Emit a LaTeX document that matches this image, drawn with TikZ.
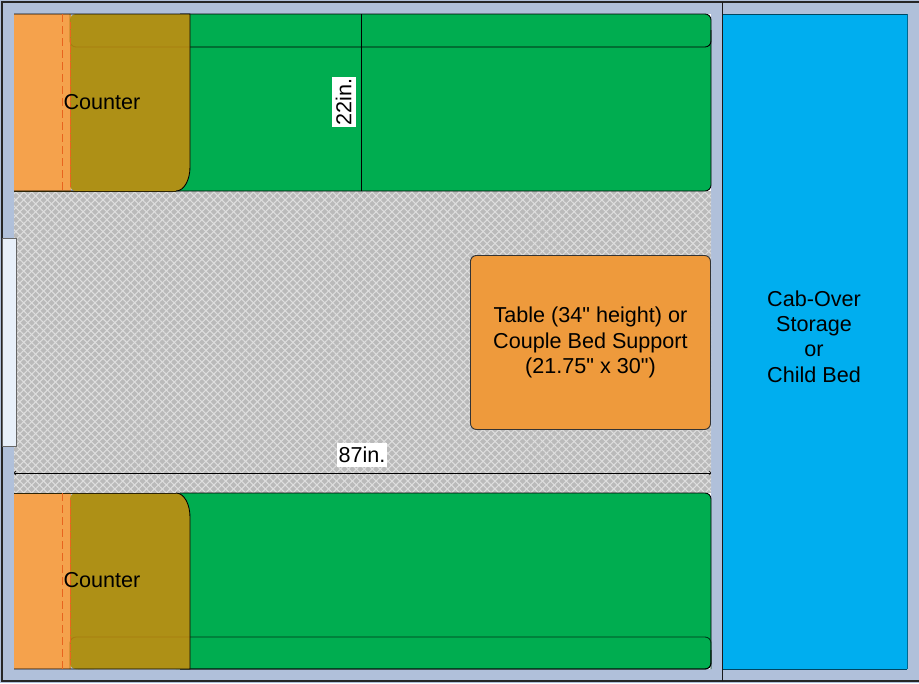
\documentclass[tikz,border=0pt]{standalone}
\usepackage{fontspec}
\newfontfamily\lsans{Liberation Sans}
\usetikzlibrary{patterns.meta,arrows.meta}
\definecolor{wallc}{HTML}{B0C0DA}
\definecolor{floorc}{HTML}{BABABA}
\definecolor{floorl}{HTML}{DEDEDE}
\definecolor{benchc}{HTML}{00AD50}
\definecolor{orangec}{HTML}{F5A24C}
\definecolor{olivec}{HTML}{AE9016}
\definecolor{tablec}{HTML}{EE9A3C}
\definecolor{cabc}{HTML}{00AEEF}
\definecolor{doorc}{HTML}{E8F0FA}
\definecolor{dashc}{HTML}{E8641E}
\definecolor{olineC}{HTML}{A87A10}
\tikzset{
  outl/.style={draw=black,line width=0.65pt},
  thin line/.style={draw=black,line width=0.55pt},
  lab/.style={font=\lsans\fontsize{16.2}{18}\selectfont,text=black,align=center,inner sep=0pt},
  dimlab/.style={lab,fill=white,inner xsep=1pt,inner ysep=0pt,minimum height=18pt},
  dashl/.style={draw=dashc,line width=0.6pt,dash pattern=on 6pt off 3pt},
}
\begin{document}
\begin{tikzpicture}[x=0.75pt,y=-0.75pt]
\useasboundingbox (0,0) rectangle (919,683);
% walls
\fill[wallc] (0,0) rectangle (919,683);
\draw[line width=1.2pt,black!85] (919,2) -- (2,2) -- (2,681) -- (919,681);
% floor
\fill[floorc] (14,191) rectangle (711,493);
\fill[pattern={Lines[angle=45,distance=4.2pt,line width=0.8pt]},pattern color=floorl] (14,191) rectangle (711,493);
\fill[pattern={Lines[angle=-45,distance=4.2pt,line width=0.8pt]},pattern color=floorl] (14,191) rectangle (711,493);
% cab-over
\fill[cabc] (723,14) rectangle (907,669);
\draw[line width=0.7pt,black!60!cabc] (723,14) -- (907,14);
\draw[line width=0.7pt,black!60!cabc] (723,669) -- (907,669);
\draw[line width=0.5pt,black!40!cabc] (907,14) -- (907,669);
\draw[line width=1.1pt,black!90] (722.5,2) -- (722.5,681);
% top bench and counter
\fill[orangec] (14,14) rectangle (71,191);
\fill[white] (700,14) rectangle (711,25);
\fill[white] (700,180) rectangle (711,191);
\fill[benchc,rounded corners=4.5pt] (170,14) -- (711,14) -- (711,191) -- (170,191) -- cycle;
\fill[benchc] (170,14) rectangle (195,191);
\draw[outl,rounded corners=4.5pt] (180,14) -- (711,14) -- (711,47) -- (180,47);
\draw[outl,rounded corners=4.5pt] (711,30) -- (711,191) -- (14,191);
\fill[olivec,rounded corners=4.5pt] (70,14) rectangle (100,191);
\fill[olivec] (78,14) -- (190,14) -- (190,167) .. controls (190,180) and (184,191) .. (176,191) -- (78,191) -- cycle;
\draw[olineC,line width=0.6pt,rounded corners=4.5pt] (190,47) -- (70,47) -- (70,14);
\draw[outl] (14,14) -- (190,14) -- (190,167) .. controls (190,180) and (184,191) .. (176,191);
\draw[outl,black!75!olivec] (14,191) -- (176,191);
\draw[dashl] (62.5,14) -- (62.5,191);
\draw[dashl,dash pattern=on 5pt off 1pt] (70.5,22) -- (70.5,187);
% bottom bench and counter
\fill[orangec] (14,493) rectangle (71,669);
\fill[white] (700,493) rectangle (711,504);
\fill[white] (700,658) rectangle (711,669);
\fill[benchc,rounded corners=4.5pt] (170,493) rectangle (711,669);
\fill[benchc] (170,493) rectangle (195,669);
\draw[outl,rounded corners=4.5pt] (180,493) -- (711,493) -- (711,669) -- (180,669);
\draw[outl,rounded corners=4.5pt,black!70!benchc] (180,637) -- (711,637) -- (711,669);
\draw[outl,rounded corners=4.5pt] (711,650) -- (711,669) -- (180,669);
\fill[olivec,rounded corners=4.5pt] (70,493) rectangle (100,669);
\fill[olivec] (78,669) -- (190,669) -- (190,517) .. controls (190,504) and (184,493) .. (176,493) -- (78,493) -- cycle;
\draw[olineC,line width=0.6pt,rounded corners=4.5pt] (190,637) -- (70,637) -- (70,669);
\draw[outl] (14,669) -- (190,669) -- (190,517) .. controls (190,504) and (184,493) .. (176,493);
\draw[outl,black!75!olivec] (14,493) -- (176,493);
\draw[dashl] (62.5,493) -- (62.5,669);
\draw[dashl,dash pattern=on 5pt off 1pt] (70.5,500) -- (70.5,665);
% door
\fill[doorc,draw=black!60,line width=0.5pt] (2,238) rectangle (16,446);
% table
\node[draw=black!80,line width=0.7pt,fill=tablec,rounded corners=4.5pt,minimum width=180pt,minimum height=130.5pt,inner sep=0pt,lab,anchor=north west] (tbl) at (470,255) {Table (34" height) or\\[0.9pt]Couple Bed Support\\[0.9pt](21.75" x 30")};
% dimensions
\coordinate (d1a) at (14,473);
\coordinate (d1b) at (711,473);
\coordinate (d2a) at (361,14);
\coordinate (d2b) at (361,191);
\draw[thin line,{Straight Barb[length=0.8pt,width=3pt]}-{Straight Barb[length=0.8pt,width=3pt]}] (d1a) -- (d1b);
\draw[thin line] (d2a) -- (d2b);
\node[dimlab] (l87) at (362,455) {87in.};
\node[dimlab,rotate=90] (l22) at (343.5,102) {22in.};
% labels
\node[lab] (c1) at (102,102) {Counter};
\node[lab] (c2) at (102,580) {Counter};
\node[lab] (cab) at (814,336.5) {Cab-Over\\[0.9pt]Storage\\[0.9pt]or\\[0.9pt]Child Bed};
\end{tikzpicture}
\end{document}
